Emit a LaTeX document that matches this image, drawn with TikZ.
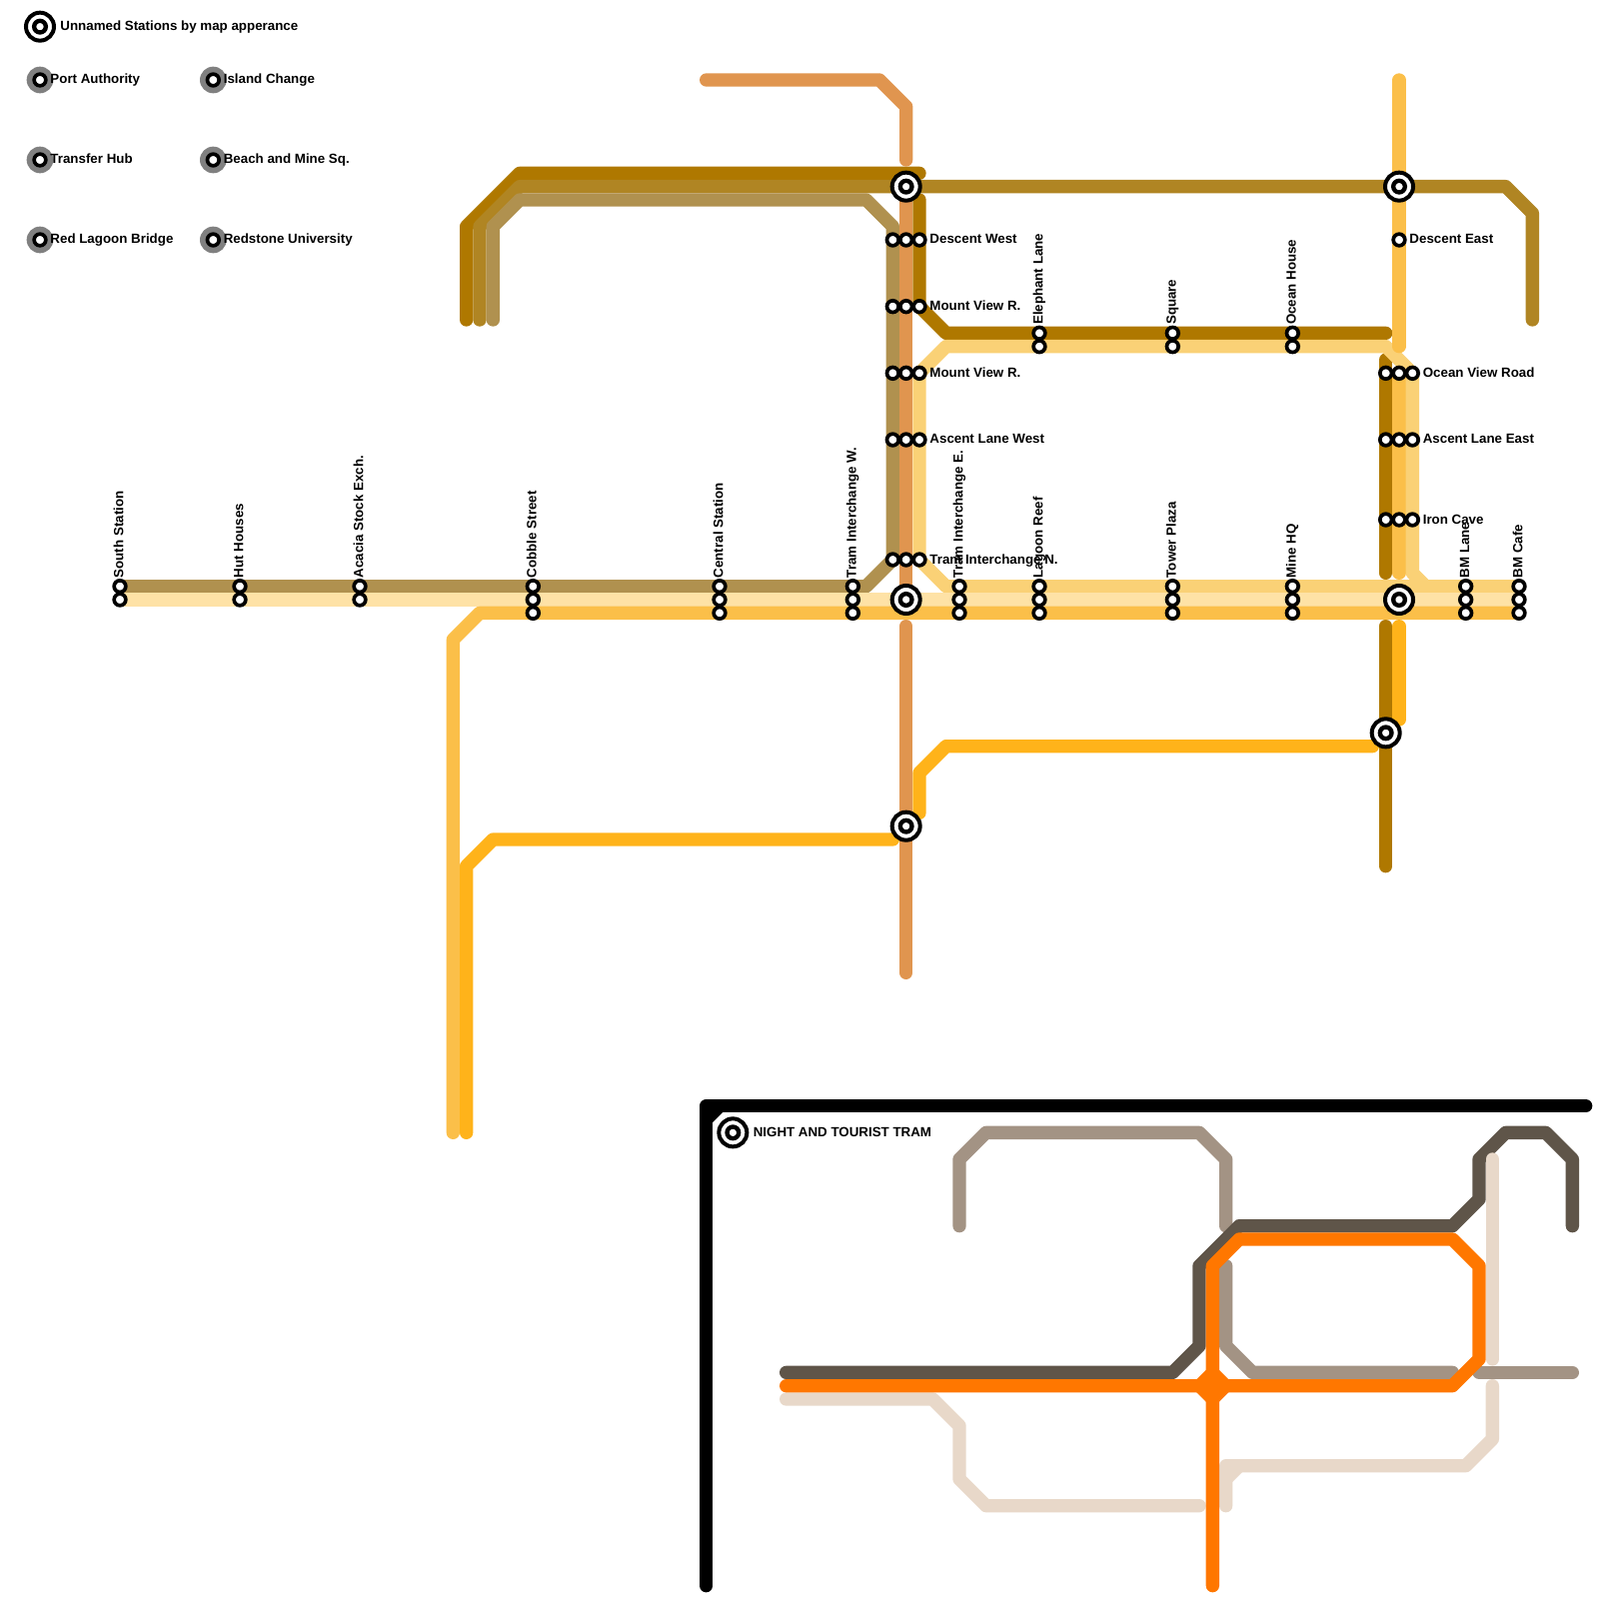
\documentclass[tikz,border=0pt]{standalone}
\usepackage{fontspec}
\setmainfont{Liberation Sans}
\usepackage{tikz}
\usetikzlibrary{shapes.geometric}
\definecolor{deepbrown}{HTML}{AF7800}
\definecolor{midbrown}{HTML}{B08523}
\definecolor{palebrown}{HTML}{B0914F}
\definecolor{copper}{HTML}{E0954F}
\definecolor{gold}{HTML}{FBBF49}
\definecolor{sand}{HTML}{FAD176}
\definecolor{cream}{HTML}{FEE2A6}
\definecolor{amber}{HTML}{FFB31A}
\definecolor{taupe}{HTML}{A39384}
\definecolor{umber}{HTML}{5F5549}
\definecolor{linen}{HTML}{E8D8C9}
\definecolor{tramorange}{HTML}{FF7700}

\begin{document}
\begin{tikzpicture}[
    x=2mm,y=-2mm,
    route/.style={line width=2mm,line cap=round,line join=round},
    stop/.style={circle,draw=black,fill=white,line width=0.55mm,inner sep=0pt,minimum size=1.75mm},
    hub/.style={circle,draw=black,fill=white,line width=0.6mm,inner sep=0pt,minimum size=4.2mm},
    hubcore/.style={circle,draw=black,fill=white,line width=0.65mm,inner sep=0pt,minimum size=1.75mm},
    halo/.style={circle,fill=gray,inner sep=0pt,minimum size=4mm},
    tag/.style={anchor=base west,inner sep=0pt,font=\fontsize{5.69}{6.8}\selectfont\bfseries},
    vtag/.style={tag,rotate=90}
  ]
    \useasboundingbox (0,0) rectangle (120,120);

    % main network
    \draw[route,deepbrown] (35,24) -- (35,17) -- (39,13) -- (69,13);
    \draw[route,deepbrown] (69,15) -- (69,23) -- (71,25) -- (104,25);
    \draw[route,deepbrown] (104,27) -- (104,43);
    \draw[route,deepbrown] (104,47) -- (104,65);
    \draw[route,midbrown] (36,24) -- (36,17) -- (39,14) -- (113,14) -- (115,16) -- (115,24);
    \draw[route,palebrown] (37,24) -- (37,17) -- (39,15) -- (65,15) -- (67,17) -- (67,42) -- (65,44) -- (9,44);
    \draw[route,copper] (53,6) -- (66,6) -- (68,8) -- (68,12);
    \draw[route,copper] (68,14) -- (68,44);
    \draw[route,copper] (68,47) -- (68,73);
    \draw[route,gold] (105,28) -- (105,43);
    \draw[route,sand] (71,44) -- (69,42) -- (69,28) -- (71,26) -- (104,26) -- (106,28) -- (106,43) -- (107,44) -- (114,44);
    \draw[route,sand] (71,44) -- (107,44);
    \draw[route,gold] (105,6) -- (105,26);
    \draw[route,cream] (9,45) -- (114,45);
    \draw[route,gold] (34,85) -- (34,48) -- (36,46) -- (114,46);
    \draw[route,amber] (105,47) -- (105,54);
    \draw[route,amber] (103,56) -- (71,56) -- (69,58) -- (69,61);
    \draw[route,amber] (35,85) -- (35,65) -- (37,63) -- (67,63);

    % tram network
    \draw[route,black] (53,119) -- (53,83) -- (119,83);
    \draw[route,black] (53,84) -- (54,83);
    \draw[route,taupe] (72,92) -- (72,87) -- (74,85) -- (90,85) -- (92,87) -- (92,92);
    \draw[route,taupe] (92,95) -- (92,101) -- (94,103) -- (109,103);
    \draw[route,taupe] (111,103) -- (118,103);
    \draw[route,umber] (59,103) -- (88,103) -- (90,101) -- (90,95) -- (93,92) -- (109,92) -- (111,90) -- (111,87) -- (113,85) -- (116,85) -- (118,87) -- (118,92);
    \draw[route,linen] (59,105) -- (70,105) -- (72,107) -- (72,111) -- (74,113) -- (90,113);
    \draw[route,linen] (92,113) -- (92,110) -- (110,110) -- (112,108) -- (112,104);
    \draw[route,linen] (92,111) -- (93,110);
    \draw[route,linen] (112,87) -- (112,102);
    \draw[route,tramorange] (59,104) -- (109,104) -- (111,102) -- (111,95) -- (109,93) -- (93,93) -- (91,95) -- (91,119);
    \node[diamond,fill=tramorange,inner sep=0pt,minimum size=6.8mm] (crossing) at (91,104) {};

    % legend
    \node[hub] (keyhub) at (3,2) {};
    \node[hubcore] (keycore) at (3,2) {};
    \node[tag] (keytext) at (4.5,2.3) {Unnamed Stations by map apperance};
    \node[halo] (porthalo) at (3,6) {};
    \node[stop] (port) at (3,6) {};
    \node[tag] (porttext) at (3.75,6.3) {Port Authority};
    \node[halo] (transferhalo) at (3,12) {};
    \node[stop] (transfer) at (3,12) {};
    \node[tag] (transfertext) at (3.75,12.3) {Transfer Hub};
    \node[halo] (bridgehalo) at (3,18) {};
    \node[stop] (bridge) at (3,18) {};
    \node[tag] (bridgetext) at (3.75,18.3) {Red Lagoon Bridge};
    \node[halo] (islandhalo) at (16,6) {};
    \node[stop] (island) at (16,6) {};
    \node[tag] (islandtext) at (16.75,6.3) {Island Change};
    \node[halo] (beachhalo) at (16,12) {};
    \node[stop] (beach) at (16,12) {};
    \node[tag] (beachtext) at (16.75,12.3) {Beach and Mine Sq.};
    \node[halo] (unihalo) at (16,18) {};
    \node[stop] (uni) at (16,18) {};
    \node[tag] (unitext) at (16.75,18.3) {Redstone University};
    \node[hub] (nighthub) at (55,85) {};
    \node[hubcore] (nightcore) at (55,85) {};
    \node[tag] (nighttext) at (56.5,85.3) {NIGHT AND TOURIST TRAM};

    % interchanges
    \node[hub] (northw) at (68,14) {};
    \node[hubcore] at (68,14) {};
    \node[hub] (northe) at (105,14) {};
    \node[hubcore] at (105,14) {};
    \node[hub] (centw) at (68,45) {};
    \node[hubcore] at (68,45) {};
    \node[hub] (cente) at (105,45) {};
    \node[hubcore] at (105,45) {};
    \node[hub] (lowe) at (104,55) {};
    \node[hubcore] at (104,55) {};
    \node[hub] (loww) at (68,62) {};
    \node[hubcore] at (68,62) {};

    % west stack
    \node[stop] at (67,18) {};
    \node[stop] at (68,18) {};
    \node[stop] at (69,18) {};
    \node[tag] at (69.75,18.3) {Descent West};
    \node[stop] at (67,23) {};
    \node[stop] at (68,23) {};
    \node[stop] at (69,23) {};
    \node[tag] at (69.75,23.3) {Mount View R.};
    \node[stop] at (67,28) {};
    \node[stop] at (68,28) {};
    \node[stop] at (69,28) {};
    \node[tag] at (69.75,28.3) {Mount View R.};
    \node[stop] at (67,33) {};
    \node[stop] at (68,33) {};
    \node[stop] at (69,33) {};
    \node[tag] at (69.75,33.3) {Ascent Lane West};
    \node[stop] at (67,42) {};
    \node[stop] at (68,42) {};
    \node[stop] at (69,42) {};

    % east stack
    \node[stop] at (105,18) {};
    \node[tag] at (105.75,18.3) {Descent East};
    \node[stop] at (104,28) {};
    \node[stop] at (105,28) {};
    \node[stop] at (106,28) {};
    \node[tag] at (106.75,28.3) {Ocean View Road};
    \node[stop] at (104,33) {};
    \node[stop] at (105,33) {};
    \node[stop] at (106,33) {};
    \node[tag] at (106.75,33.3) {Ascent Lane East};
    \node[stop] at (104,39) {};
    \node[stop] at (105,39) {};
    \node[stop] at (106,39) {};
    \node[tag] at (106.75,39.3) {Iron Cave};

    % upper row
    \node[stop] at (78,25) {};
    \node[stop] at (78,26) {};
    \node[vtag] at (78.25,24.4) {Elephant Lane};
    \node[stop] at (88,25) {};
    \node[stop] at (88,26) {};
    \node[vtag] at (88.25,24.4) {Square};
    \node[stop] at (97,25) {};
    \node[stop] at (97,26) {};
    \node[vtag] at (97.25,24.4) {Ocean House};

    % lower row
    \node[stop] at (9,44) {};
    \node[stop] at (9,45) {};
    \node[vtag] at (9.25,43.4) {South Station};
    \node[stop] at (18,44) {};
    \node[stop] at (18,45) {};
    \node[vtag] at (18.25,43.4) {Hut Houses};
    \node[stop] at (27,44) {};
    \node[stop] at (27,45) {};
    \node[vtag] at (27.25,43.4) {Acacia Stock Exch.};
    \node[stop] at (40,44) {};
    \node[stop] at (40,45) {};
    \node[stop] at (40,46) {};
    \node[vtag] at (40.25,43.4) {Cobble Street};
    \node[stop] at (54,44) {};
    \node[stop] at (54,45) {};
    \node[stop] at (54,46) {};
    \node[vtag] at (54.25,43.4) {Central Station};
    \node[stop] at (64,44) {};
    \node[stop] at (64,45) {};
    \node[stop] at (64,46) {};
    \node[vtag] at (64.25,43.4) {Tram Interchange W.};
    \node[stop] at (72,44) {};
    \node[stop] at (72,45) {};
    \node[stop] at (72,46) {};
    \node[vtag] at (72.25,43.4) {Tram Interchange E.};
    \node[stop] at (78,44) {};
    \node[stop] at (78,45) {};
    \node[stop] at (78,46) {};
    \node[vtag] at (78.25,43.4) {Lagoon Reef};
    \node[tag] at (69.75,42.3) {Tram Interchange N.};
    \node[stop] at (88,44) {};
    \node[stop] at (88,45) {};
    \node[stop] at (88,46) {};
    \node[vtag] at (88.25,43.4) {Tower Plaza};
    \node[stop] at (97,44) {};
    \node[stop] at (97,45) {};
    \node[stop] at (97,46) {};
    \node[vtag] at (97.25,43.4) {Mine HQ};
    \node[stop] at (110,44) {};
    \node[stop] at (110,45) {};
    \node[stop] at (110,46) {};
    \node[vtag] at (110.25,43.4) {BM Lane};
    \node[stop] at (114,44) {};
    \node[stop] at (114,45) {};
    \node[stop] at (114,46) {};
    \node[vtag] at (114.25,43.4) {BM Cafe};
  \end{tikzpicture}
\end{document}
